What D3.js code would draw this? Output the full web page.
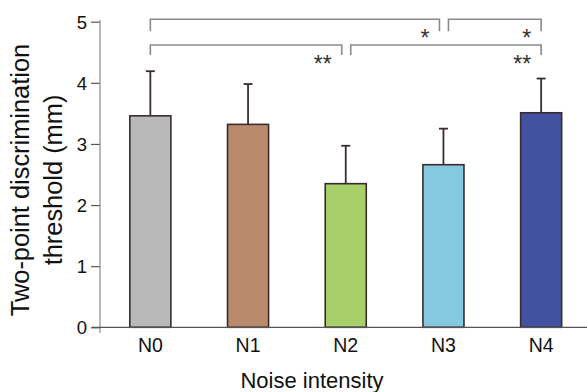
<!DOCTYPE html>
<html>
<head>
<meta charset="utf-8">
<script src="https://cdn.jsdelivr.net/npm/d3@7"></script>
<style>
  body { margin: 0; background: #fff; }
  text { font-family: "Liberation Sans", Arial, sans-serif; }
</style>
</head>
<body>
<div id="chart"></div>
<script>
// data
var categories = ["N0", "N1", "N2", "N3", "N4"];
var means = [3.46, 3.32, 2.35, 2.66, 3.51];
var errors = [0.73, 0.66, 0.62, 0.59, 0.56];
var colors = ["#b8b9b8", "#b98b6c", "#a7cf6a", "#85c9e1", "#4352a0"];
var yTicks = [0, 1, 2, 3, 4, 5];
// significance brackets: from, to, row, label
var brackets = [
  { from: "N0", to: "N3", row: 0, label: "*" },
  { from: "N3", to: "N4", row: 0, label: "*" },
  { from: "N0", to: "N2", row: 1, label: "**" },
  { from: "N2", to: "N4", row: 1, label: "**" }
];

var W = 587, H = 392;
var svg = d3.select("#chart")
  .append("svg")
  .attr("width", W)
  .attr("height", H);

var x = d3.scaleBand()
  .domain(categories)
  .range([101.5, 590])
  .paddingInner(0.58)
  .paddingOuter(0.29);

var y = d3.scaleLinear()
  .domain([0, 5])
  .range([327.3, 21.7]);

// y axis
var yAxis = svg.append("g")
  .attr("transform", "translate(100,0)")
  .call(d3.axisLeft(y).tickValues(yTicks).tickSize(9).tickFormat(d3.format("d")));
yAxis.select(".domain").remove();
yAxis.append("line")
  .attr("x1", 0).attr("x2", 0)
  .attr("y1", 20).attr("y2", 333)
  .attr("stroke", "#8a8a8a").attr("stroke-width", 1.2);
yAxis.selectAll(".tick line").attr("stroke", "#555").attr("stroke-width", 1.2);
yAxis.selectAll(".tick text")
  .attr("x", -13)
  .attr("dy", "0.36em")
  .attr("fill", "#111")
  .style("font-size", "18.5px");

// bars
svg.append("g")
  .selectAll("rect")
  .data(categories)
  .join("rect")
  .attr("x", function (d) { return x(d); })
  .attr("y", function (d, i) { return y(means[i]); })
  .attr("width", x.bandwidth())
  .attr("height", function (d, i) { return y(0) - y(means[i]); })
  .attr("fill", function (d, i) { return colors[i]; })
  .attr("stroke", "#3a2c2c")
  .attr("stroke-width", 1.6);

// error bars (upper only)
var eb = svg.append("g")
  .selectAll("g")
  .data(categories)
  .join("g")
  .attr("stroke", "#3a2c2c")
  .attr("stroke-width", 1.8);
eb.append("line")
  .attr("x1", function (d) { return x(d) + x.bandwidth() / 2; })
  .attr("x2", function (d) { return x(d) + x.bandwidth() / 2; })
  .attr("y1", function (d, i) { return y(means[i]); })
  .attr("y2", function (d, i) { return y(means[i] + errors[i]); });
eb.append("line")
  .attr("x1", function (d) { return x(d) + x.bandwidth() / 2 - 4.5; })
  .attr("x2", function (d) { return x(d) + x.bandwidth() / 2 + 4.5; })
  .attr("y1", function (d, i) { return y(means[i] + errors[i]); })
  .attr("y2", function (d, i) { return y(means[i] + errors[i]); });

// x axis
var xAxis = svg.append("g")
  .attr("transform", "translate(0," + y(0) + ")")
  .call(d3.axisBottom(x).tickSize(0).tickPadding(11));
xAxis.select(".domain").remove();
xAxis.append("line")
  .attr("x1", 92).attr("x2", W)
  .attr("y1", 0).attr("y2", 0)
  .attr("stroke", "#555").attr("stroke-width", 1.2);
xAxis.selectAll(".tick text")
  .attr("fill", "#111")
  .style("font-size", "19.5px");

// significance brackets
var rowY = [19.3, 45];
var drop = [12, 10];
var bg = svg.append("g");
brackets.forEach(function (b) {
  var cx1 = x(b.from) + x.bandwidth() / 2;
  var cx2 = x(b.to) + x.bandwidth() / 2;
  var x1 = b.from === "N0" ? cx1 : cx1 + 5;
  var x2 = b.to === "N4" ? cx2 : cx2 - 4;
  var yy = rowY[b.row];
  bg.append("path")
    .attr("d", "M" + x1 + "," + (yy + drop[b.row]) + "V" + yy + "H" + x2 + "V" + (yy + drop[b.row]))
    .attr("fill", "none")
    .attr("stroke", "#8a8a8a")
    .attr("stroke-width", 1.6);
  bg.append("text")
    .attr("x", x2 - 10)
    .attr("y", yy + 26.5)
    .attr("text-anchor", "end")
    .attr("fill", "#333")
    .style("font-size", "23px")
    .text(b.label);
});

// axis titles
svg.append("text")
  .attr("x", 312)
  .attr("y", 387.5)
  .attr("text-anchor", "middle")
  .attr("fill", "#111")
  .style("font-size", "22px")
  .text("Noise intensity");

var yt = svg.append("text")
  .attr("transform", "translate(28.5,180) rotate(-90)")
  .attr("text-anchor", "middle")
  .attr("fill", "#111")
  .style("font-size", "25.4px");
yt.append("tspan").attr("x", 0).attr("dy", 0).text("Two-point discrimination");
yt.append("tspan").attr("x", 0).attr("dy", 33).text("threshold (mm)");
</script>
</body>
</html>
